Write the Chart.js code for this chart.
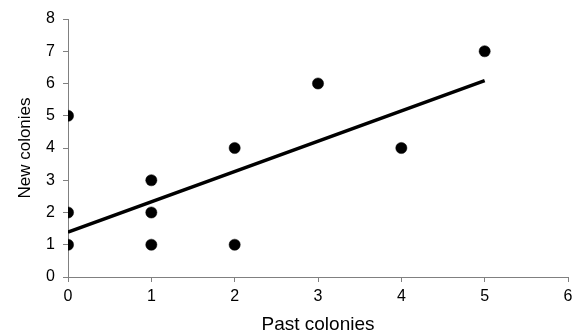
<!DOCTYPE html>
<html>
<head>
<meta charset="utf-8">
<script src="https://cdn.jsdelivr.net/npm/chart.js@4/dist/chart.umd.min.js"></script>
<style>
  html, body { margin: 0; padding: 0; background: #fff; }
  /* the source image is cropped just past the last x label */
  #wrap { width: 572px; height: 334px; overflow: hidden; }
</style>
</head>
<body>
<div id="wrap"><canvas id="scatterChart" width="579" height="334"></canvas></div>
<script>
// observed colonies
var pastColonies = [0, 0, 0, 1, 1, 1, 2, 2, 3, 4, 5];
var newColonies  = [1, 2, 5, 1, 2, 3, 1, 4, 6, 4, 7];

// fitted trend line at its two ends
var fitX = [0, 5];
var fitY = [1.39, 6.09];

var xTicks = [0, 1, 2, 3, 4, 5, 6];
var yTicks = [0, 1, 2, 3, 4, 5, 6, 7, 8];

var points = pastColonies.map(function (x, i) { return { x: x, y: newColonies[i] }; });
var fitLine = fitX.map(function (x, i) { return { x: x, y: fitY[i] }; });

var axisGray = "#808080";
var fontFamily = "'Liberation Sans', Arial, sans-serif";

var ctx = document.getElementById("scatterChart");
var chart = new Chart(ctx, {
    type: 'scatter',
    data: {
        datasets: [
            {
                label: "Colonies",
                data: points,
                backgroundColor: "#000",
                borderColor: "#000",
                borderWidth: 0.5,
                pointRadius: 5.6,
                pointHoverRadius: 5.6,
                order: 1
            },
            {
                type: 'line',
                label: "Trend",
                data: fitLine,
                borderColor: "#000",
                borderWidth: 3.5,
                pointRadius: 0,
                fill: false,
                order: 2
            }
        ]
    },
    options: {
        responsive: false,
        animation: false,
        layout: { padding: { top: 19, right: 11, left: 0, bottom: 0 } },
        plugins: {
            legend: { display: false },
            tooltip: { enabled: false }
        },
        scales: {
            x: {
                type: 'linear',
                min: xTicks[0],
                max: xTicks[xTicks.length - 1],
                afterBuildTicks: function (scale) {
                    scale.ticks = xTicks.map(function (v) { return { value: v }; });
                },
                afterFit: function (scale) { scale.height = 57; },
                grid: { drawOnChartArea: false, color: axisGray, tickLength: 5, tickWidth: 1 },
                border: { display: true, color: axisGray, width: 1 },
                ticks: { color: "#000", padding: 5, font: { family: fontFamily, size: 16 } },
                title: {
                    display: true,
                    text: "Past colonies",
                    color: "#000",
                    padding: { top: 4, bottom: 0 },
                    font: { family: fontFamily, size: 19, lineHeight: 1 }
                }
            },
            y: {
                type: 'linear',
                min: yTicks[0],
                max: yTicks[yTicks.length - 1],
                afterBuildTicks: function (scale) {
                    scale.ticks = yTicks.map(function (v) { return { value: v }; });
                },
                afterFit: function (scale) { scale.width = 68; },
                grid: { drawOnChartArea: false, color: axisGray, tickLength: 5, tickWidth: 1 },
                border: { display: true, color: axisGray, width: 1 },
                ticks: { color: "#000", padding: 8, font: { family: fontFamily, size: 16 } },
                title: {
                    display: true,
                    text: "New colonies",
                    color: "#000",
                    padding: { top: 15, bottom: 0 },
                    font: { family: fontFamily, size: 17 }
                }
            }
        }
    }
});
</script>
</body>
</html>
